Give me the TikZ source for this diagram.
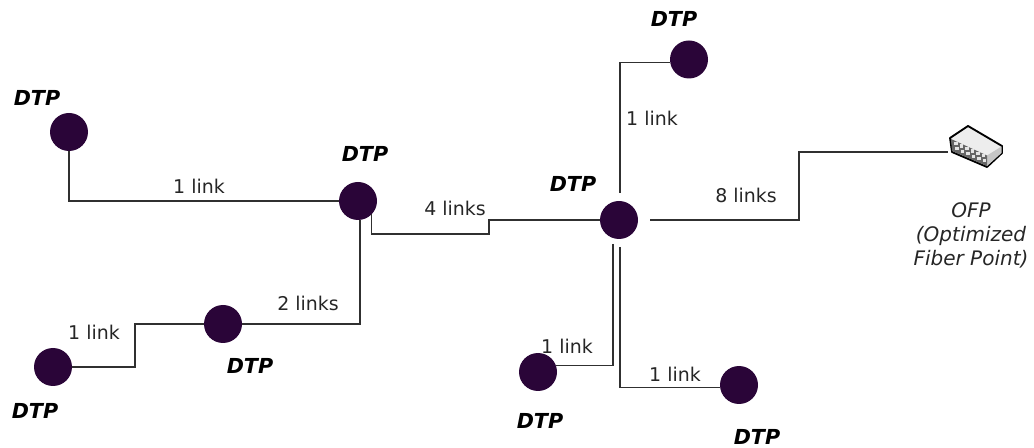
\documentclass[tikz,border=0pt]{standalone}
\usepackage{fontspec}
\setmainfont{DejaVu Sans}
\usetikzlibrary{positioning}
\definecolor{dtpcolor}{HTML}{2A0538}
\definecolor{linkcolor}{HTML}{303030}

\begin{document}
\begin{tikzpicture}[
    x=0.75pt, y=-0.75pt,
    dtp/.style={circle, fill=dtpcolor, draw=none, minimum size=28.5pt, inner sep=0pt, outer sep=0pt},
    link/.style={line width=0.95pt, draw=linkcolor},
    linklabel/.style={font=\fontsize{14.2}{16}\selectfont, text=black!85, inner sep=0pt},
    dtplabel/.style={font=\fontsize{15.5}{16}\selectfont\bfseries\itshape, inner sep=0pt},
    note/.style={font=\fontsize{15}{18}\selectfont\itshape, text=black!85, align=center, inner sep=0pt},
    port/.style={fill=white!80!gray, draw=none}
]
    \useasboundingbox (0,0) rectangle (1034,448);

    % DTP nodes
    \node[dtp] (left) at (69,132) {};
    \node[dtp] (mid) at (358,201) {};
    \node[dtp] (low) at (223,324) {};
    \node[dtp] (corner) at (53,367) {};
    \node[dtp] (hub) at (619,220) {};
    \node[dtp] (top) at (689,59.5) {};
    \node[dtp] (south) at (538,372) {};
    \node[dtp] (east) at (739,385) {};

    % OFP box
    \coordinate (ofp) at (948,152);
    \filldraw[draw=black, line width=1.4pt, fill=white!93!black, line join=round]
        (950,138) -- (968,126) -- (1002,146) -- (1002,153) -- (987,167) -- (952,152) -- cycle;
    \fill[gray!45] (987,155.5) -- (1001.5,146.5) -- (1001.5,153) -- (987,166) -- cycle;
    \fill[black!60] (951,139) -- (987,155.5) -- (987,166) -- (952,151) -- cycle;
    \foreach \i in {0,...,5} {
        \fill[port] (954+5.5*\i,142+2.4*\i) rectangle ++(3.5,3.5);
        \fill[port] (955+5.5*\i,147.5+2.4*\i) rectangle ++(3.5,3);
    }

    % free ends
    \coordinate (step1) at (489,227);
    \coordinate (step2) at (135,345);
    \coordinate (hubup) at (620,193);
    \coordinate (hubright) at (650,220);
    \coordinate (step3) at (799,186);
    \coordinate (hubdown1) at (613,244);
    \coordinate (hubdown2) at (620,247);

    % Links
    \draw[link] (left) |- (mid);
    \draw[link] (mid.south east) |- (step1 |- 0,234) -- (step1) |- (hub);
    \draw[link] (low) -| (mid.-84);
    \draw[link] (corner) -| (step2) |- (low);
    \draw[link] (hubup) |- (top.188);
    \draw[link] (hubright) -| (step3) |- (ofp);
    \draw[link] (hubdown1) |- (south.20);
    \draw[link] (hubdown2) |- (east.188);

    % Link labels
    \node[linklabel] (l1) at (199,186) {1 link};
    \node[linklabel] (l2) at (308,303) {2 links};
    \node[linklabel] (l3) at (94,332) {1 link};
    \node[linklabel] (l4) at (455,208) {4 links};
    \node[linklabel] (l5) at (652,118) {1 link};
    \node[linklabel] (l6) at (746,195) {8 links};
    \node[linklabel] (l7) at (567,346) {1 link};
    \node[linklabel] (l8) at (675,374) {1 link};

    % DTP labels
    \node[dtplabel] (n1) at (37,98) {DTP};
    \node[dtplabel] (n2) at (365,154) {DTP};
    \node[dtplabel] (n3) at (573,184) {DTP};
    \node[dtplabel] (n4) at (674,19) {DTP};
    \node[dtplabel] (n5) at (250,366) {DTP};
    \node[dtplabel] (n6) at (35,411) {DTP};
    \node[dtplabel] (n7) at (540,421) {DTP};
    \node[dtplabel] (n8) at (757,437) {DTP};

    \node[note] (ofpnote) at (971,235) {OFP\\(Optimized\\Fiber Point)};
\end{tikzpicture}
\end{document}
